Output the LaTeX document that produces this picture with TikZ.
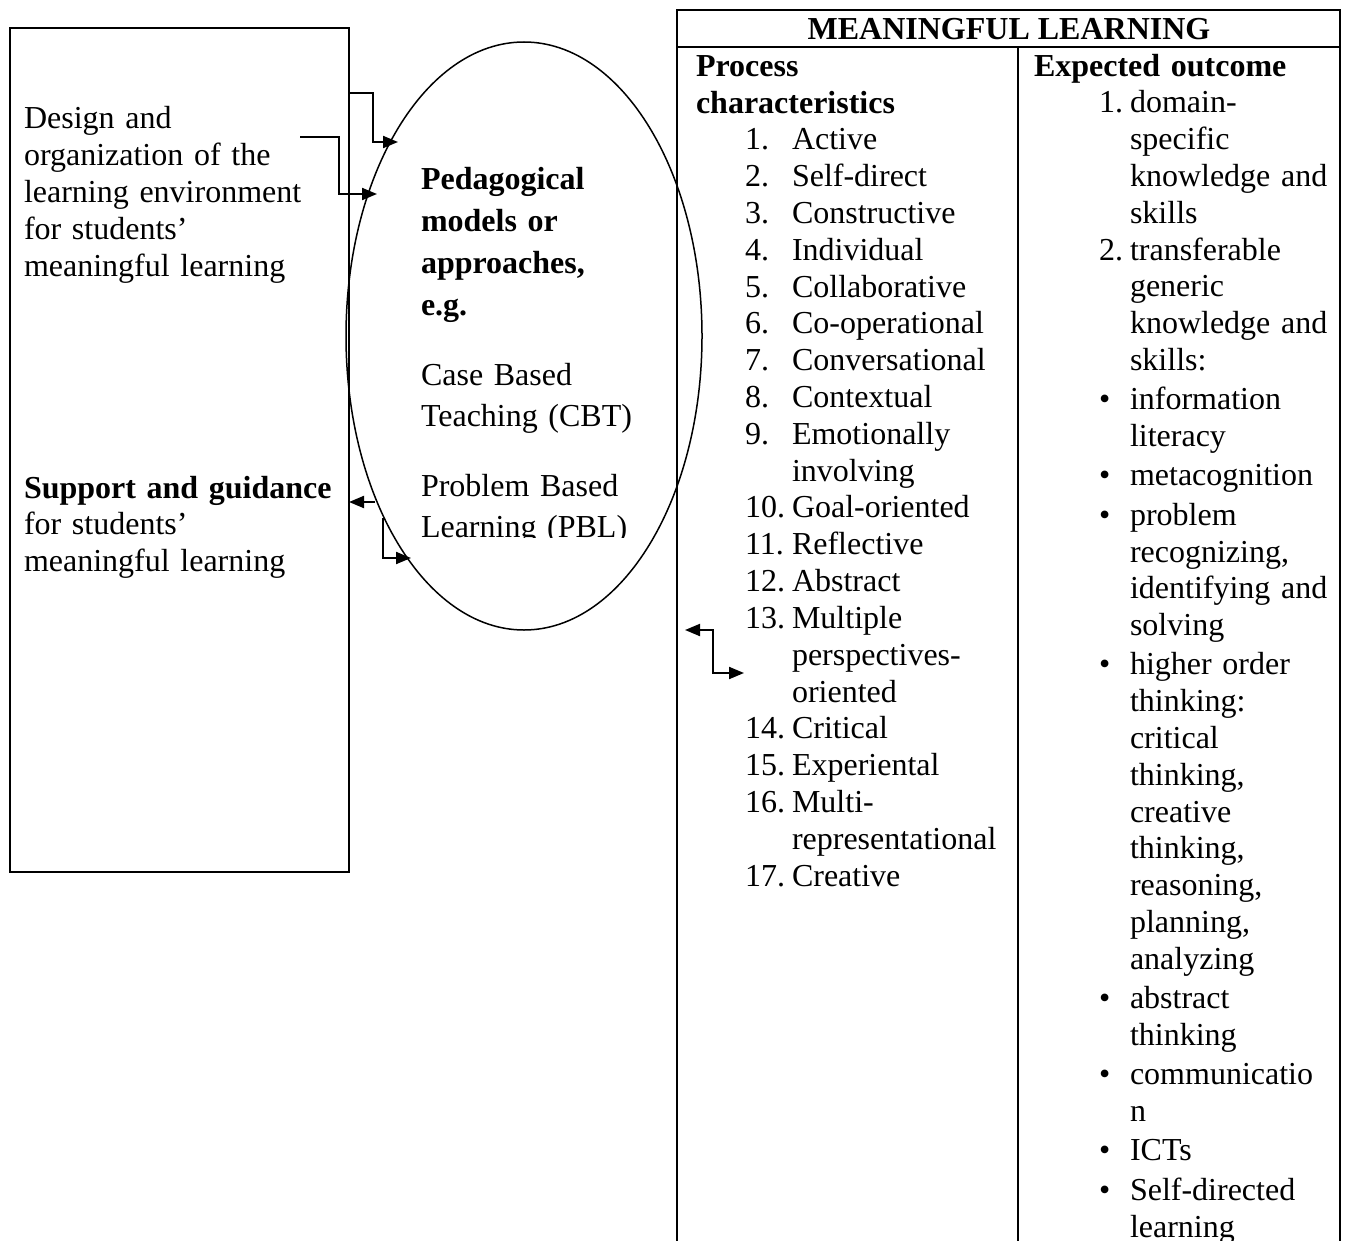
\documentclass[tikz,border=0pt]{standalone}
\usepackage{fontspec}
\setmainfont{Liberation Serif}
\usetikzlibrary{arrows.meta,shapes.geometric}
\begin{document}
\begin{tikzpicture}[x=1pt,y=-1pt,
  txt/.style={anchor=base west, inner sep=0pt, outer sep=0pt, align=left, text width=330pt,
              font=\fontsize{32}{36.8}\selectfont},
  boldtxt/.style={txt, font=\fontsize{32}{41.7}\selectfont\bfseries},
  ptxt/.style={txt, font=\fontsize{32}{41.7}\selectfont},
  boxline/.style={line width=2pt},
  conn/.style={line width=2pt, -{Triangle[length=15pt,width=12pt]}},
  conn2/.style={line width=2pt, {Triangle[length=15pt,width=12pt]}-{Triangle[length=15pt,width=12pt]}}]
\useasboundingbox (0,0) rectangle (1348,1241);

% left box
\node[draw, boxline, minimum width=339pt, minimum height=844pt, anchor=north west, inner sep=0pt] (lbox) at (9,27) {};
\node[txt] (design) at (24,129) {Design and\\organization of the\\learning environment\\for students’\\meaningful learning};
\node[txt] (support) at (24,498) {\textbf{Support and guidance}\\for students’\\meaningful learning};

% ellipse
\node[draw, ellipse, line width=1.5pt, minimum width=356pt, minimum height=588pt, inner sep=0pt] (ell) at (524,336) {};
\node[boldtxt] (ped) at (421,190) {Pedagogical\\models or\\approaches,\\e.g.};
\node[ptxt] (cbt) at (421,385) {Case Based\\Teaching (CBT)};
\begin{scope}
  \clip (400,440) rectangle (680,537);
  \node[ptxt] (pbl) at (421,496) {Problem Based\\Learning (PBL)};
\end{scope}

% table
\draw[boxline] (677,1245) -- (677,10) -- (1340,10) -- (1340,1245);
\draw[boxline] (677,47) -- (1340,47);
\draw[boxline] (1018,47) -- (1018,1245);
\node[anchor=base, inner sep=0pt, font=\fontsize{32}{36.8}\selectfont\bfseries] (head) at (1009,40) {MEANINGFUL LEARNING};
\node[txt, font=\fontsize{32}{36.8}\selectfont\bfseries] (proc) at (696,77) {Process\\characteristics};
\node[txt, font=\fontsize{32}{36.8}\selectfont\bfseries] (expo) at (1034,77) {Expected outcome};

\node[txt, text width=60pt] (pnum) at (745,150) {1.\\2.\\3.\\4.\\5.\\6.\\7.\\8.\\9.\\\mbox{}\\10.\\11.\\12.\\13.\\\mbox{}\\\mbox{}\\14.\\15.\\16.\\\mbox{}\\17.};
\node[txt, text width=240pt] (pitems) at (792,150) {Active\\Self-direct\\Constructive\\Individual\\Collaborative\\Co-operational\\Conversational\\Contextual\\Emotionally\\involving\\Goal-oriented\\Reflective\\Abstract\\Multiple\\perspectives-\\oriented\\Critical\\Experiental\\Multi-\\representational\\Creative};

\node[txt, text width=30pt] (onum) at (1099,113) {1.\\\mbox{}\\\mbox{}\\\mbox{}\\2.\\\mbox{}\\\mbox{}\\\mbox{}\\[2.5pt]•\\\mbox{}\\[2.5pt]•\\[2.5pt]•\\\mbox{}\\\mbox{}\\\mbox{}\\[2.5pt]•\\\mbox{}\\\mbox{}\\\mbox{}\\\mbox{}\\\mbox{}\\\mbox{}\\\mbox{}\\\mbox{}\\[2.5pt]•\\\mbox{}\\[2.5pt]•\\\mbox{}\\[2.5pt]•\\[2.5pt]•\\\mbox{}};
\node[txt, text width=220pt] (oitems) at (1130,113) {domain-\\specific\\knowledge and\\skills\\transferable\\generic\\knowledge and\\skills:\\[2.5pt]information\\literacy\\[2.5pt]metacognition\\[2.5pt]problem\\recognizing,\\identifying and\\solving\\[2.5pt]higher order\\thinking:\\critical\\thinking,\\creative\\thinking,\\reasoning,\\planning,\\analyzing\\[2.5pt]abstract\\thinking\\[2.5pt]communicatio\\n\\[2.5pt]ICTs\\[2.5pt]Self-directed\\learning};

% connectors
\coordinate (a1s) at (348,93);
\coordinate (a1e) at (398,142);
\draw[conn] (a1s) -- (373,93) -- (373,142) -- (a1e);
\coordinate (a2s) at (300,137);
\coordinate (a2e) at (377,194);
\draw[conn] (a2s) -- (339,137) -- (339,194) -- (a2e);
\coordinate (a3s) at (375,502);
\coordinate (a3e) at (349,502);
\draw[conn] (a3s) -- (a3e);
\coordinate (a4s) at (383,518);
\coordinate (a4e) at (411,558);
\draw[conn] (a4s) -- (383,558) -- (a4e);
\coordinate (a5s) at (685,630);
\coordinate (a5e) at (744,673);
\draw[conn2] (a5s) -- (713,630) -- (713,673) -- (a5e);
\end{tikzpicture}
\end{document}
